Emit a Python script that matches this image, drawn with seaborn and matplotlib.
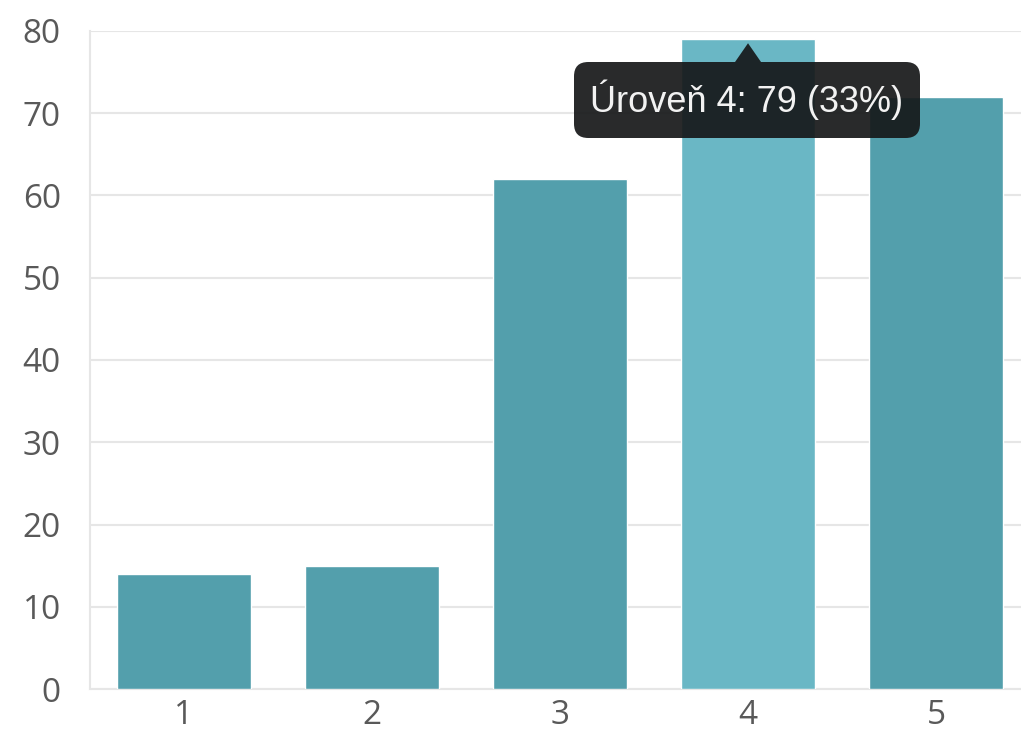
import matplotlib
matplotlib.use("Agg")
import matplotlib.pyplot as plt
import seaborn as sns
import pandas as pd
from matplotlib.patches import FancyBboxPatch, Polygon

# data
levels = ["1", "2", "3", "4", "5"]
counts = [14, 15, 62, 79, 72]
hover_level = "4"
tooltip_text = "Úroveň 4: 79 (33%)"

df = pd.DataFrame({"level": levels, "count": counts})

base_color = "#539fac"
hover_color = "#6ab7c5"
grid_color = "#e6e6e6"
palette = {lv: (hover_color if lv == hover_level else base_color) for lv in levels}

sns.set_theme(style="white")
plt.rcParams["font.family"] = ["Open Sans", "DejaVu Sans"]

fig = plt.figure(figsize=(10.21, 7.35), dpi=100)
ax = fig.add_axes([90 / 1021, 46 / 735, 931 / 1021, 658 / 735])

sns.barplot(data=df, x="level", y="count", hue="level", palette=palette,
            width=0.71, saturation=1, legend=False, ax=ax, zorder=3)

ax.set_ylim(0, 80)
ax.set_xlim(-0.5, 4.452)
ax.set_yticks(range(0, 81, 10))
ax.set_xlabel("")
ax.set_ylabel("")
ax.yaxis.grid(True, color=grid_color, linewidth=1.5, zorder=0)
ax.set_axisbelow(True)

for side in ["top", "right"]:
    ax.spines[side].set_visible(False)
for side in ["left", "bottom"]:
    ax.spines[side].set_color(grid_color)
    ax.spines[side].set_linewidth(1.5)

ax.tick_params(axis="y", length=17, width=1.5, color=grid_color,
               labelsize=24, labelcolor="#595959", pad=4)
ax.tick_params(axis="x", length=0, labelsize=24, labelcolor="#595959", pad=7)

# tooltip over the hovered bar
hx = levels.index(hover_level)
hy = counts[hx]
tip = ax.transData.transform((hx, hy))
tip_fig = fig.transFigure.inverted()
W, H = 1021, 735
tx, ty = tip[0], tip[1]
box_l, box_r = 574, 920
box_top, box_bot = H - 62, H - 138
tri = Polygon([tip_fig.transform((tx, ty - 4)),
               tip_fig.transform((tx - 13, box_top)),
               tip_fig.transform((tx + 13, box_top))],
              closed=True, transform=fig.transFigure,
              facecolor="#161819", alpha=0.92, edgecolor="none", zorder=10)
fig.patches.append(tri)
box = FancyBboxPatch((box_l / W, box_bot / H),
                     (box_r - box_l) / W, (box_top - box_bot) / H,
                     boxstyle="round,pad=0,rounding_size=0.014",
                     transform=fig.transFigure, mutation_aspect=W / H,
                     facecolor="#161819", alpha=0.92, edgecolor="none", zorder=10)
fig.patches.append(box)
fig.text((box_l + box_r) / 2 / W, (box_top + box_bot) / 2 / H, tooltip_text,
         ha="center", va="center", color="#f2f2f2", fontsize=26,
         family=["Liberation Sans", "DejaVu Sans"], zorder=11)

fig.savefig("out.png", dpi=100)
